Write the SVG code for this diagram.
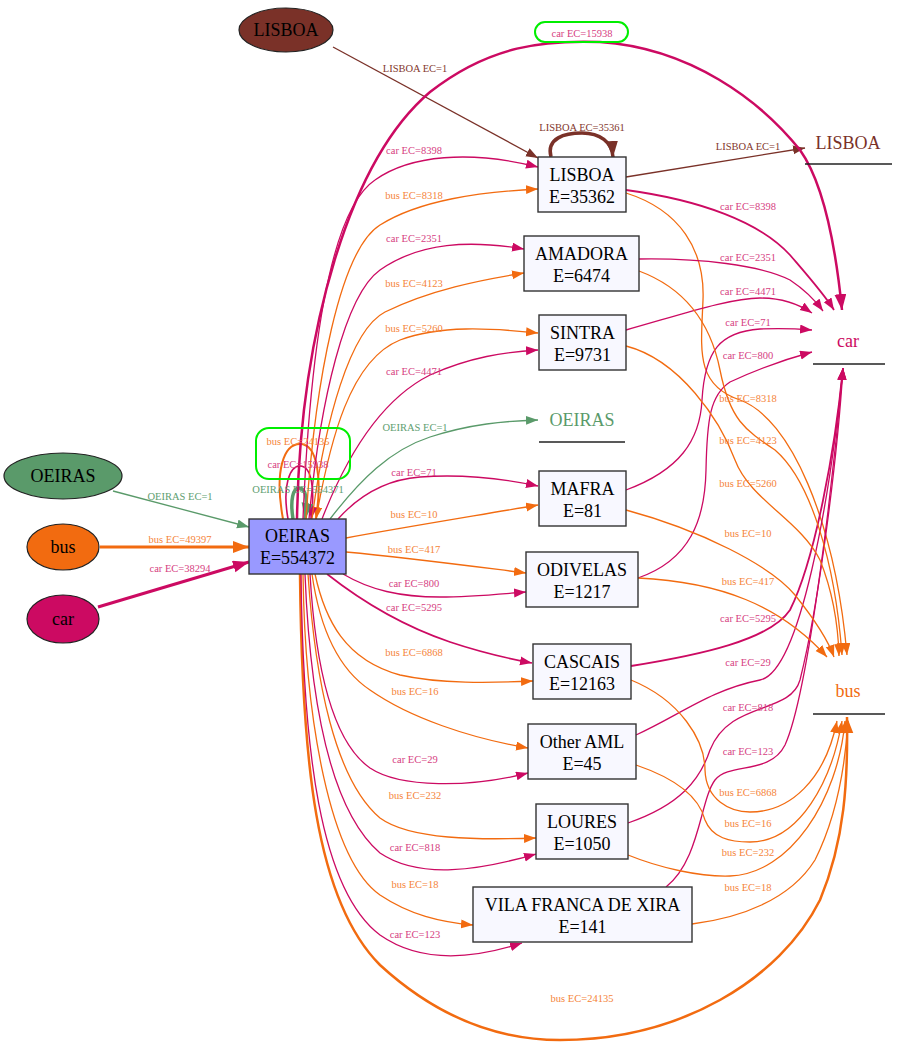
<svg xmlns="http://www.w3.org/2000/svg" width="897" height="1048" viewBox="0 0 897 1048" font-family="'Liberation Serif', 'Times New Roman', serif">
<style>
text{font-family:'Liberation Serif','Times New Roman',serif}
.nt{font-size:18px;fill:#000;text-anchor:middle}
.box{fill:#f8f8ff;stroke:#333;stroke-width:1.4}
.el{stroke:#222;stroke-width:1.2}
.e{fill:none;stroke-width:1.3}
.car{stroke:#cc0a62}
.bus{stroke:#f26b10}
.lis{stroke:#7a3128}
.oei{stroke:#5a9a6a}
.lb{font-size:10.5px;text-anchor:middle}
.lc{fill:#d6407f}
.lbu{fill:#f5843a}
.ll{fill:#83372d}
.lg{fill:#5e9e70}
.hl{fill:none;stroke:#00ee00;stroke-width:2}
.ul{stroke:#222;stroke-width:1.3}
</style>
<defs>
<marker id="ac" markerUnits="userSpaceOnUse" markerWidth="13" markerHeight="10" refX="12" refY="4.5" orient="auto"><path d="M0,0 L12,4.5 L0,9 z" fill="#cc0a62"/></marker>
<marker id="acT" markerUnits="userSpaceOnUse" markerWidth="18" markerHeight="13" refX="16" refY="6" orient="auto"><path d="M0,0 L16,6 L0,12 z" fill="#cc0a62"/></marker>
<marker id="ab" markerUnits="userSpaceOnUse" markerWidth="13" markerHeight="10" refX="12" refY="4.5" orient="auto"><path d="M0,0 L12,4.5 L0,9 z" fill="#f26b10"/></marker>
<marker id="abT" markerUnits="userSpaceOnUse" markerWidth="18" markerHeight="13" refX="16" refY="6" orient="auto"><path d="M0,0 L16,6 L0,12 z" fill="#f26b10"/></marker>
<marker id="al" markerUnits="userSpaceOnUse" markerWidth="13" markerHeight="10" refX="12" refY="4.5" orient="auto"><path d="M0,0 L12,4.5 L0,9 z" fill="#7a3128"/></marker>
<marker id="alT" markerUnits="userSpaceOnUse" markerWidth="18" markerHeight="13" refX="16" refY="6" orient="auto"><path d="M0,0 L16,6 L0,12 z" fill="#7a3128"/></marker>
<marker id="ag" markerUnits="userSpaceOnUse" markerWidth="13" markerHeight="10" refX="12" refY="4.5" orient="auto"><path d="M0,0 L12,4.5 L0,9 z" fill="#5a9a6a"/></marker>
<marker id="agT" markerUnits="userSpaceOnUse" markerWidth="18" markerHeight="13" refX="16" refY="6" orient="auto"><path d="M0,0 L16,6 L0,12 z" fill="#5a9a6a"/></marker>
</defs>
<rect width="897" height="1048" fill="#fff"/>

<g id="connectors">
<path class="e lis" d="M333,47 L538,158" marker-end="url(#al)"/>
<path class="e oei" d="M113,491 L249,527" marker-end="url(#ag)"/>
<path class="e bus" style="stroke-width:3" d="M100,547 L249,547" marker-end="url(#abT)"/>
<path class="e car" style="stroke-width:3" d="M98,607 L249,562" marker-end="url(#acT)"/>
<path class="e lis" style="stroke-width:3.5" d="M551,157 C546,138 565,133 582,133 C600,133 612,142 613,157" marker-end="url(#alT)"/>
<path class="e lis" d="M626,177 L805,148" marker-end="url(#al)"/>
<path class="e car" style="stroke-width:1.8" d="M626,190 C700,200 760,222 790,255 C808,276 824,294 834,310" marker-end="url(#ac)"/>
<path class="e bus" d="M626,193 C680,210 705,250 703,300 C701,350 695,385 740,400 C790,418 835,520 847,655" marker-end="url(#ab)"/>
<path class="e bus" style="stroke-width:2" d="M283,519 C274,470 284,444 300,444 C318,444 322,480 316,519" marker-end="url(#ab)"/>
<path class="e car" style="stroke-width:1.6" d="M288,519 C282,485 290,466 300,466 C312,466 315,490 311,519" marker-end="url(#ac)"/>
<path class="e oei" style="stroke-width:3.5" d="M293,519 C290,500 293,488 299,488 C306,488 308,500 305,519" marker-end="url(#agT)"/>
<path class="e car" style="stroke-width:2.5" d="M297,519 C300,330 350,160 430,92 C490,45 545,40 600,42 C690,48 760,100 800,150 C825,185 836,250 842,310" marker-end="url(#acT)"/>
<path class="e bus" style="stroke-width:2.5" d="M300,574 C302,760 315,900 380,965 C440,1020 500,1040 560,1040 C680,1040 780,980 820,900 C845,840 848,780 847,717" marker-end="url(#abT)"/>
<path class="e car" d="M303,519 C310,350 330,210 375,180 C410,155 470,150 538,167" marker-end="url(#ac)"/>
<path class="e bus" d="M306,519 C315,380 340,250 380,225 C420,200 480,192 538,189" marker-end="url(#ab)"/>
<path class="e car" d="M309,519 C320,400 345,295 380,270 C420,242 470,240 524,249" marker-end="url(#ac)"/>
<path class="e bus" d="M312,519 C325,420 350,330 385,312 C430,290 480,280 524,273" marker-end="url(#ab)"/>
<path class="e bus" d="M316,519 C330,440 350,360 400,340 C440,325 490,328 538,333" marker-end="url(#ab)"/>
<path class="e car" d="M322,519 C345,460 380,400 430,375 C470,357 505,352 538,350" marker-end="url(#ac)"/>
<path class="e oei" d="M330,519 C360,480 390,450 430,437 C470,424 505,421 538,420" marker-end="url(#ag)"/>
<path class="e car" d="M338,519 C355,500 380,480 420,477 C460,474 500,478 538,486" marker-end="url(#ac)"/>
<path class="e bus" d="M346,538 C400,528 480,515 538,505" marker-end="url(#ab)"/>
<path class="e bus" d="M346,552 C410,558 470,566 526,573" marker-end="url(#ab)"/>
<path class="e car" d="M343,574 C370,590 400,597 440,597 C470,597 500,594 526,592" marker-end="url(#ac)"/>
<path class="e car" style="stroke-width:1.6" d="M327,574 C360,600 400,625 450,642 C480,652 505,658 532,663" marker-end="url(#ac)"/>
<path class="e bus" d="M315,574 C325,620 345,660 400,675 C440,684 490,683 533,681" marker-end="url(#ab)"/>
<path class="e bus" d="M312,574 C320,630 340,670 370,690 C410,718 470,738 528,748" marker-end="url(#ab)"/>
<path class="e car" d="M310,574 C315,660 330,740 370,768 C400,788 470,788 528,773" marker-end="url(#ac)"/>
<path class="e bus" d="M308,574 C315,680 335,780 380,818 C410,840 480,840 536,838" marker-end="url(#ab)"/>
<path class="e car" d="M305,574 C310,700 330,810 380,853 C420,880 480,870 536,854" marker-end="url(#ac)"/>
<path class="e bus" d="M303,574 C305,720 330,860 380,895 C410,915 440,922 473,925" marker-end="url(#ab)"/>
<path class="e car" d="M301,574 C303,750 320,890 380,935 C420,963 470,960 522,943" marker-end="url(#ac)"/>
<path class="e car" d="M639,259 C700,258 760,265 790,280 C805,290 815,300 823,311" marker-end="url(#ac)"/>
<path class="e car" d="M626,330 C680,315 730,298 760,298 C785,298 800,305 812,313" marker-end="url(#ac)"/>
<path class="e car" d="M626,490 C680,470 700,440 702,400 C705,350 720,332 760,329 C780,328 800,329 812,330" marker-end="url(#ac)"/>
<path class="e car" d="M638,578 C690,560 705,520 706,470 C707,420 710,395 730,382 C760,368 790,358 812,352" marker-end="url(#ac)"/>
<path class="e car" style="stroke-width:1.8" d="M631,666 C700,655 770,640 790,610 C815,560 835,450 843,368" marker-end="url(#ac)"/>
<path class="e car" d="M636,735 C680,715 710,690 760,680 C800,672 830,500 843,368" marker-end="url(#ac)"/>
<path class="e car" d="M628,823 C680,805 700,780 710,750 C730,700 790,715 800,680 C820,600 838,450 843,368" marker-end="url(#ac)"/>
<path class="e car" d="M666,887 C700,860 700,800 715,780 C730,762 770,775 785,745 C810,690 835,460 843,368" marker-end="url(#ac)"/>
<path class="e bus" d="M639,271 C690,290 712,330 720,370 C730,420 745,430 775,450 C810,480 835,560 842,655" marker-end="url(#ab)"/>
<path class="e bus" d="M626,346 C680,360 720,420 735,460 C750,500 800,520 820,560 C832,590 838,620 839,656" marker-end="url(#ab)"/>
<path class="e bus" d="M626,510 C700,530 770,565 795,595 C815,620 828,640 834,657" marker-end="url(#ab)"/>
<path class="e bus" d="M638,578 C720,582 780,605 827,657" marker-end="url(#ab)"/>
<path class="e bus" d="M631,680 C680,700 705,740 705,770 C706,800 730,812 750,812 C790,812 825,780 837,721" marker-end="url(#ab)"/>
<path class="e bus" d="M636,765 C680,780 700,800 705,820 C712,838 730,842 750,842 C800,842 832,780 842,721" marker-end="url(#ab)"/>
<path class="e bus" d="M628,855 C660,868 700,877 730,876 C790,874 838,800 845,721" marker-end="url(#ab)"/>
<path class="e bus" d="M692,924 C740,918 790,900 815,860 C835,820 845,770 848,721" marker-end="url(#ab)"/>
</g>

<g id="edge-labels" font-family="'Liberation Serif', 'Times New Roman', serif">
<rect class="hl" x="535" y="22" width="93" height="20" rx="10"/>
<rect class="hl" x="256" y="428" width="94" height="51" rx="13"/>
<text class="lb ll" x="415" y="72">LISBOA EC=1</text>
<text class="lb ll" x="582" y="131">LISBOA EC=35361</text>
<text class="lb ll" x="748" y="150">LISBOA EC=1</text>
<text class="lb lc" x="582" y="37">car EC=15938</text>
<text class="lb lbu" x="582" y="1002">bus EC=24135</text>
<text class="lb lbu" x="298" y="445">bus EC=24135</text>
<text class="lb lc" x="298" y="468">car EC=15938</text>
<text class="lb lg" x="298" y="493">OEIRAS EC=554371</text>
<text class="lb lg" x="180" y="500">OEIRAS EC=1</text>
<text class="lb lbu" x="180" y="543">bus EC=49397</text>
<text class="lb lc" x="180" y="572">car EC=38294</text>
<text class="lb lc" x="414" y="154">car EC=8398</text>
<text class="lb lbu" x="414" y="199">bus EC=8318</text>
<text class="lb lc" x="414" y="242">car EC=2351</text>
<text class="lb lbu" x="414" y="287">bus EC=4123</text>
<text class="lb lbu" x="414" y="332">bus EC=5260</text>
<text class="lb lc" x="414" y="375">car EC=4471</text>
<text class="lb lg" x="415" y="431">OEIRAS EC=1</text>
<text class="lb lc" x="414" y="476">car EC=71</text>
<text class="lb lbu" x="414" y="518">bus EC=10</text>
<text class="lb lbu" x="414" y="553">bus EC=417</text>
<text class="lb lc" x="414" y="587">car EC=800</text>
<text class="lb lc" x="414" y="611">car EC=5295</text>
<text class="lb lbu" x="414" y="656">bus EC=6868</text>
<text class="lb lbu" x="415" y="695">bus EC=16</text>
<text class="lb lc" x="415" y="763">car EC=29</text>
<text class="lb lbu" x="415" y="799">bus EC=232</text>
<text class="lb lc" x="415" y="851">car EC=818</text>
<text class="lb lbu" x="415" y="888">bus EC=18</text>
<text class="lb lc" x="415" y="938">car EC=123</text>
<text class="lb lc" x="748" y="210">car EC=8398</text>
<text class="lb lc" x="748" y="261">car EC=2351</text>
<text class="lb lc" x="748" y="295">car EC=4471</text>
<text class="lb lc" x="748" y="326">car EC=71</text>
<text class="lb lc" x="748" y="359">car EC=800</text>
<text class="lb lbu" x="748" y="402">bus EC=8318</text>
<text class="lb lbu" x="748" y="444">bus EC=4123</text>
<text class="lb lbu" x="748" y="487">bus EC=5260</text>
<text class="lb lbu" x="748" y="537">bus EC=10</text>
<text class="lb lbu" x="748" y="585">bus EC=417</text>
<text class="lb lc" x="748" y="622">car EC=5295</text>
<text class="lb lc" x="748" y="666">car EC=29</text>
<text class="lb lc" x="748" y="711">car EC=818</text>
<text class="lb lc" x="748" y="755">car EC=123</text>
<text class="lb lbu" x="748" y="796">bus EC=6868</text>
<text class="lb lbu" x="748" y="827">bus EC=16</text>
<text class="lb lbu" x="748" y="856">bus EC=232</text>
<text class="lb lbu" x="748" y="891">bus EC=18</text>
</g>

<g id="nodes" font-family="'Liberation Serif', 'Times New Roman', serif">
<g id="n-lisboa-src"><ellipse class="el" cx="286" cy="30" rx="47" ry="22" fill="#7a3128"/><text class="nt" x="286" y="36">LISBOA</text></g>
<g id="n-oeiras-src"><ellipse class="el" cx="63" cy="476" rx="59" ry="23" fill="#5a9a6a"/><text class="nt" x="63" y="482">OEIRAS</text></g>
<g id="n-bus-src"><ellipse class="el" cx="63" cy="547" rx="36" ry="23" fill="#f26b10"/><text class="nt" x="63" y="553">bus</text></g>
<g id="n-car-src"><ellipse class="el" cx="63" cy="619" rx="36" ry="24" fill="#cc0a62"/><text class="nt" x="63" y="625">car</text></g>
<g id="n-oeiras"><rect class="box" x="249" y="519" width="97" height="55" style="fill:#9999ff"/><text class="nt" x="297.5" y="542">OEIRAS</text><text class="nt" x="297.5" y="564">E=554372</text></g>
<g id="n-lisboa"><rect class="box" x="538" y="157" width="88" height="55"/><text class="nt" x="582" y="181">LISBOA</text><text class="nt" x="582" y="203">E=35362</text></g>
<g id="n-amadora"><rect class="box" x="524" y="236" width="115" height="55"/><text class="nt" x="581.5" y="260">AMADORA</text><text class="nt" x="581.5" y="282">E=6474</text></g>
<g id="n-sintra"><rect class="box" x="539" y="315" width="87" height="55"/><text class="nt" x="582.5" y="339">SINTRA</text><text class="nt" x="582.5" y="361">E=9731</text></g>
<g id="n-mafra"><rect class="box" x="539" y="471" width="87" height="55"/><text class="nt" x="582.5" y="495">MAFRA</text><text class="nt" x="582.5" y="517">E=81</text></g>
<g id="n-odivelas"><rect class="box" x="526" y="552" width="112" height="55"/><text class="nt" x="582" y="576">ODIVELAS</text><text class="nt" x="582" y="598">E=1217</text></g>
<g id="n-cascais"><rect class="box" x="533" y="644" width="98" height="55"/><text class="nt" x="582" y="668">CASCAIS</text><text class="nt" x="582" y="690">E=12163</text></g>
<g id="n-other-aml"><rect class="box" x="528" y="724" width="108" height="55"/><text class="nt" x="582" y="748">Other AML</text><text class="nt" x="582" y="770">E=45</text></g>
<g id="n-loures"><rect class="box" x="536" y="804" width="92" height="55"/><text class="nt" x="582" y="828">LOURES</text><text class="nt" x="582" y="850">E=1050</text></g>
<g id="n-vfx"><rect class="box" x="473" y="887" width="219" height="55"/><text class="nt" x="582.5" y="911">VILA FRANCA DE XIRA</text><text class="nt" x="582.5" y="933">E=141</text></g>
<g id="n-oeiras-sink"><text class="nt" x="582" y="426" style="fill:#5a9a6a">OEIRAS</text><line class="ul" x1="539" y1="442" x2="625" y2="442"/></g>
<g id="n-lisboa-sink"><text class="nt" x="848" y="149" style="fill:#7a3128">LISBOA</text><line class="ul" x1="805" y1="164" x2="892" y2="164"/></g>
<g id="n-car-sink"><text class="nt" x="848" y="347" style="fill:#cc0a62">car</text><line class="ul" x1="813" y1="364" x2="885" y2="364"/></g>
<g id="n-bus-sink"><text class="nt" x="848" y="697" style="fill:#f26b10">bus</text><line class="ul" x1="813" y1="714" x2="885" y2="714"/></g>
</g>
</svg>
